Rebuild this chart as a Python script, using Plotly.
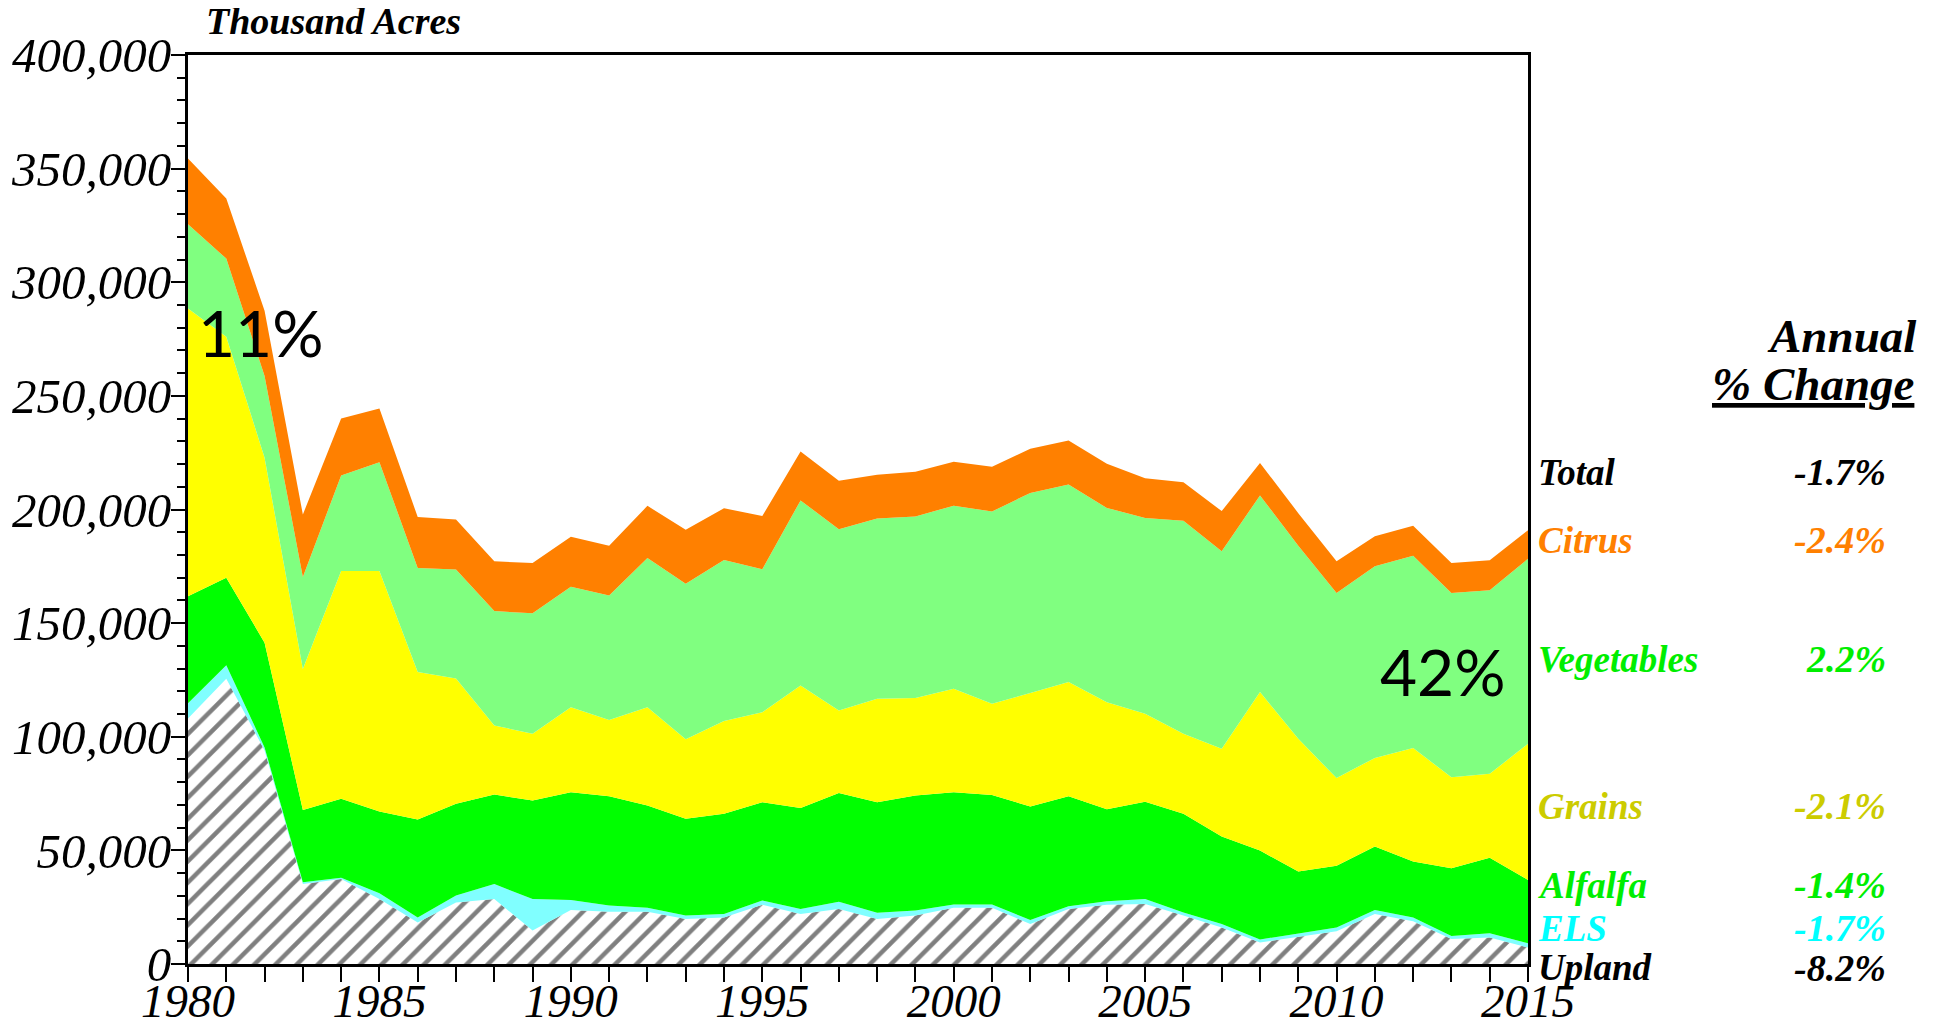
import plotly.graph_objects as go

years = list(range(1980, 2016))

upland = [108000, 125500, 94000, 35200, 37400, 28600, 18300, 27100, 28600, 14700,
          23800, 23000, 23000, 19800, 20500, 26100, 22000, 24200, 19800, 21300,
          24700, 24700, 17600, 24200, 26100, 26400, 21300, 16100, 9500, 12000,
          14400, 22000, 18800, 11000, 11700, 7300]
els = [6700, 6000, 1300, 800, 600, 2500, 2200, 3000, 6600, 13900,
       4400, 2700, 1700, 1500, 1500, 1800, 2200, 3200, 2800, 2200,
       1500, 1500, 1800, 1200, 1500, 2200, 1400, 1500, 1300, 1500,
       1700, 1800, 1700, 1300, 1800, 1800]
alfalfa = [47100, 38500, 46100, 31800, 34700, 36000, 43100, 40400, 39400, 43300,
           47400, 48100, 45000, 42600, 44100, 43300, 44500, 47800, 48600, 50600,
           49400, 48200, 49900, 48400, 40500, 42800, 43400, 38500, 39100, 27200,
           27100, 27900, 24600, 29800, 33200, 27900]
grains = [126700, 106000, 81400, 62000, 100200, 105800, 64900, 55100, 30400, 29400,
          37400, 33600, 43300, 35000, 40800, 39600, 53900, 36400, 45500, 42900,
          45500, 40100, 49900, 50300, 47100, 38700, 35200, 38600, 69800, 58400,
          38600, 39000, 49900, 40100, 37000, 59900]
vegetables = [37000, 34400, 36000, 40500, 42100, 47900, 45800, 48000, 50300, 53000,
              53000, 54800, 65700, 68400, 70900, 62900, 81400, 79700, 79300, 79900,
              80600, 84600, 88100, 86900, 85500, 86200, 93800, 86900, 86500, 85000,
              81500, 84300, 84700, 81100, 80800, 81400]
citrus = [29000, 26400, 28700, 27500, 25000, 23600, 22400, 22000, 21900, 22200,
          22000, 21900, 22900, 23800, 22800, 23400, 21500, 21300, 19300, 19700,
          19300, 19700, 19400, 19400, 19400, 17500, 16900, 17700, 14300, 14300,
          13900, 13200, 13200, 13200, 13200, 12600]

y_tickvals = [0, 50000, 100000, 150000, 200000, 250000, 300000, 350000, 400000]
y_ticktext = ["0", "50,000", "100,000", "150,000", "200,000", "250,000", "300,000", "350,000", "400,000"]
x_tickvals = [1980, 1985, 1990, 1995, 2000, 2005, 2010, 2015]

legend_names = ["Total", "Citrus", "Vegetables", "Grains", "Alfalfa", "ELS", "Upland"]
legend_pct = ["-1.7%", "-2.4%", "2.2%", "-2.1%", "-1.4%", "-1.7%", "-8.2%"]
legend_colors = ["#000000", "#FF8000", "#00EE00", "#CCCC00", "#00EE00", "#00FFFF", "#000000"]
legend_ypix = [472, 540, 659, 806, 885, 928, 968]

# page body has an 8px default margin; figure sized to fit inside the window
OFF = 8
W, H = 1938 - 2 * OFF, 1026 - 2 * OFF
# desired plot rectangle in window pixels
X0, X1, Y0, Y1 = 188, 1528, 55, 964
L, R, T, B = X0 - OFF, W - (X1 - OFF), Y0 - OFF, H - (Y1 - OFF)
PW, PH = X1 - X0, Y1 - Y0


def px(x):
    return (x - X0) / PW


def py(y):
    return (Y1 - y) / PH


fig = go.Figure()
fig.add_trace(go.Scatter(x=years, y=upland, stackgroup="s", mode="lines",
                         line=dict(width=0), fillcolor="white",
                         fillpattern=dict(shape="/", fgcolor="black", bgcolor="white",
                                          size=15, solidity=0.3),
                         name="Upland"))
fig.add_trace(go.Scatter(x=years, y=els, stackgroup="s", mode="lines",
                         line=dict(width=0), fillcolor="#80FFFF", name="ELS"))
fig.add_trace(go.Scatter(x=years, y=alfalfa, stackgroup="s", mode="lines",
                         line=dict(width=0), fillcolor="#00FF00", name="Alfalfa"))
fig.add_trace(go.Scatter(x=years, y=grains, stackgroup="s", mode="lines",
                         line=dict(width=0), fillcolor="#FFFF00", name="Grains"))
fig.add_trace(go.Scatter(x=years, y=vegetables, stackgroup="s", mode="lines",
                         line=dict(width=0), fillcolor="#80FF80", name="Vegetables"))
fig.add_trace(go.Scatter(x=years, y=citrus, stackgroup="s", mode="lines",
                         line=dict(width=0), fillcolor="#FF8000", name="Citrus"))

serif = "Liberation Serif"
ann = []
ann.append(dict(text="<b><i>Thousand Acres</i></b>", x=px(204), y=py(21), xref="paper", yref="paper",
                showarrow=False, xanchor="left", yanchor="middle",
                font=dict(family=serif, size=38, color="black")))
ann.append(dict(text="<b><i>Annual</i></b>", x=px(1918), y=py(336), xref="paper", yref="paper",
                showarrow=False, xanchor="right", yanchor="middle",
                font=dict(family=serif, size=47, color="black")))
ann.append(dict(text="<b><i><u>% Change</u></i></b>", x=px(1916), y=py(384), xref="paper", yref="paper",
                showarrow=False, xanchor="right", yanchor="middle",
                font=dict(family=serif, size=47, color="black")))
for name, pct, col, yp in zip(legend_names, legend_pct, legend_colors, legend_ypix):
    ann.append(dict(text="<b><i>" + name + "</i></b>", x=px(1536), y=py(yp), xref="paper", yref="paper",
                    showarrow=False, xanchor="left", yanchor="middle",
                    font=dict(family=serif, size=37, color=col)))
    ann.append(dict(text="<b><i>" + pct + "</i></b>", x=px(1888), y=py(yp), xref="paper", yref="paper",
                    showarrow=False, xanchor="right", yanchor="middle",
                    font=dict(family=serif, size=38, color=col)))
ann.append(dict(text="11%", x=px(261), y=py(333), xref="paper", yref="paper",
                showarrow=False, xanchor="center", yanchor="middle",
                font=dict(family="Lato", size=64, color="black")))
ann.append(dict(text="42%", x=px(1443), y=py(671), xref="paper", yref="paper",
                showarrow=False, xanchor="center", yanchor="middle",
                font=dict(family="Lato", size=64, color="black")))

fig.update_layout(
    width=W, height=H,
    margin=dict(l=L, r=R, t=T, b=B, pad=0, autoexpand=False),
    paper_bgcolor="white", plot_bgcolor="white",
    showlegend=False,
    annotations=ann,
    xaxis=dict(range=[1980, 2015], tickvals=x_tickvals, ticks="outside", ticklen=15, tickwidth=2,
               tickcolor="black", showline=True, linewidth=3, linecolor="black", mirror=True,
               showgrid=False, zeroline=False, automargin=False, ticklabelstandoff=-21,
               minor=dict(dtick=1, ticks="outside", ticklen=15, tickwidth=2, tickcolor="black", showgrid=False),
               tickfont=dict(family=serif, size=47, color="black", style="italic")),
    yaxis=dict(range=[0, 400000], tickvals=y_tickvals, ticktext=y_ticktext, ticks="outside", ticklen=14,
               tickwidth=2, tickcolor="black", showline=True, linewidth=3, linecolor="black", mirror=True,
               showgrid=False, zeroline=False, automargin=False, ticklabelstandoff=-10,
               minor=dict(dtick=10000, ticks="outside", ticklen=8, tickwidth=2, tickcolor="black", showgrid=False),
               tickfont=dict(family=serif, size=49, color="black", style="italic")),
)

fig.write_html("out.html")
